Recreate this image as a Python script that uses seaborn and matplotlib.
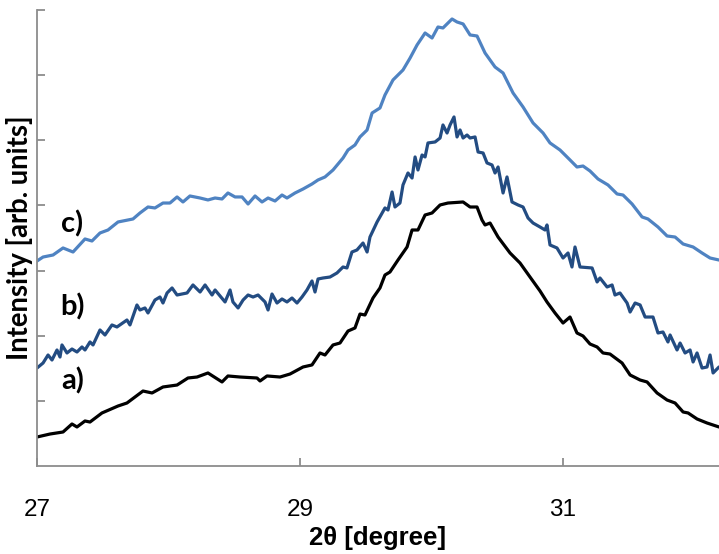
import numpy as np
import pandas as pd
import matplotlib
matplotlib.use("Agg")
import matplotlib.pyplot as plt
import seaborn as sns

# --- diffraction profiles: 2-theta positions (degree) and intensities (arb. units) ---
two_theta_a = [27.000, 27.099, 27.198, 27.266, 27.304, 27.365, 27.403, 27.494, 27.616, 27.684,
               27.806, 27.875, 27.958, 28.065, 28.148, 28.217, 28.300, 28.407, 28.452, 28.544,
               28.673, 28.696, 28.749, 28.848, 28.924, 29.023, 29.091, 29.152, 29.190, 29.251,
               29.304, 29.365, 29.418, 29.456, 29.494, 29.555, 29.608, 29.646, 29.684, 29.745,
               29.814, 29.852, 29.897, 29.951, 30.004, 30.065, 30.125, 30.240, 30.293, 30.346,
               30.384, 30.407, 30.445, 30.506, 30.597, 30.673, 30.749, 30.825, 30.878, 30.939,
               31.000, 31.053, 31.106, 31.152, 31.205, 31.259, 31.304, 31.357, 31.449, 31.510,
               31.586, 31.639, 31.715, 31.791, 31.852, 31.913, 31.951, 32.019, 32.095, 32.186]
intensity_a = [0.445, 0.491, 0.522, 0.645, 0.599, 0.691, 0.675, 0.814, 0.921, 0.967,
               1.151, 1.121, 1.213, 1.243, 1.351, 1.366, 1.428, 1.290, 1.382, 1.366,
               1.351, 1.305, 1.382, 1.366, 1.412, 1.520, 1.551, 1.735, 1.704, 1.858,
               1.888, 2.072, 2.119, 2.333, 2.318, 2.579, 2.733, 2.932, 2.978, 3.162,
               3.362, 3.623, 3.623, 3.853, 3.884, 4.007, 4.037, 4.053, 3.976, 3.976,
               3.776, 3.700, 3.730, 3.515, 3.270, 3.116, 2.901, 2.687, 2.518, 2.349,
               2.195, 2.287, 2.042, 1.996, 1.873, 1.827, 1.735, 1.719, 1.581, 1.397,
               1.320, 1.290, 1.121, 1.013, 0.967, 0.829, 0.814, 0.722, 0.660, 0.599]

two_theta_b = [27.000, 27.046, 27.084, 27.114, 27.152, 27.175, 27.190, 27.228, 27.266, 27.304,
               27.342, 27.365, 27.403, 27.426, 27.479, 27.517, 27.570, 27.608, 27.684, 27.707,
               27.760, 27.783, 27.821, 27.844, 27.897, 27.935, 27.958, 27.989, 28.027, 28.065,
               28.103, 28.141, 28.186, 28.240, 28.278, 28.331, 28.354, 28.392, 28.430, 28.468,
               28.490, 28.529, 28.567, 28.605, 28.643, 28.681, 28.734, 28.757, 28.787, 28.825,
               28.863, 28.901, 28.939, 28.977, 29.015, 29.053, 29.091, 29.114, 29.137, 29.175,
               29.228, 29.281, 29.327, 29.357, 29.395, 29.433, 29.479, 29.510, 29.532, 29.586,
               29.646, 29.669, 29.700, 29.722, 29.760, 29.783, 29.821, 29.852, 29.875, 29.897,
               29.928, 29.951, 29.973, 30.027, 30.065, 30.087, 30.118, 30.141, 30.171, 30.194,
               30.217, 30.240, 30.270, 30.293, 30.331, 30.354, 30.392, 30.422, 30.460, 30.483,
               30.506, 30.544, 30.574, 30.612, 30.658, 30.696, 30.734, 30.772, 30.825, 30.863,
               30.878, 30.901, 30.954, 31.000, 31.038, 31.068, 31.091, 31.129, 31.221, 31.259,
               31.281, 31.335, 31.373, 31.395, 31.433, 31.487, 31.510, 31.548, 31.586, 31.624,
               31.684, 31.722, 31.760, 31.798, 31.814, 31.867, 31.890, 31.928, 31.966, 31.989,
               32.019, 32.057, 32.095, 32.118, 32.141, 32.186]
intensity_b = [1.504, 1.581, 1.704, 1.627, 1.781, 1.673, 1.858, 1.735, 1.796, 1.750,
               1.827, 1.781, 1.904, 1.858, 2.088, 2.011, 2.165, 2.134, 2.241, 2.165,
               2.472, 2.395, 2.426, 2.349, 2.548, 2.594, 2.502, 2.656, 2.733, 2.625,
               2.640, 2.656, 2.779, 2.671, 2.779, 2.625, 2.702, 2.610, 2.518, 2.702,
               2.518, 2.426, 2.548, 2.625, 2.594, 2.625, 2.518, 2.395, 2.640, 2.502,
               2.564, 2.518, 2.579, 2.502, 2.594, 2.702, 2.840, 2.671, 2.871, 2.886,
               2.901, 2.963, 3.055, 3.040, 3.285, 3.316, 3.423, 3.285, 3.515, 3.746,
               3.961, 3.930, 4.206, 3.976, 4.037, 4.314, 4.498, 4.421, 4.744, 4.544,
               4.774, 4.744, 4.959, 4.974, 5.035, 5.235, 5.112, 5.235, 5.358, 5.051,
               5.158, 5.035, 5.081, 5.035, 5.051, 4.820, 4.805, 4.652, 4.621, 4.498,
               4.590, 4.191, 4.437, 4.053, 4.007, 3.976, 3.807, 3.730, 3.669, 3.623,
               3.700, 3.393, 3.347, 3.193, 3.270, 3.055, 3.362, 3.055, 3.040, 2.825,
               2.886, 2.748, 2.779, 2.625, 2.656, 2.502, 2.364, 2.502, 2.472, 2.287,
               2.287, 2.042, 2.057, 1.904, 2.011, 1.781, 1.888, 1.735, 1.781, 1.597,
               1.735, 1.504, 1.520, 1.704, 1.428, 1.520]

two_theta_c = [27.000, 27.046, 27.122, 27.198, 27.274, 27.365, 27.418, 27.479, 27.540, 27.616,
               27.730, 27.783, 27.844, 27.897, 27.958, 28.011, 28.065, 28.110, 28.163, 28.240,
               28.300, 28.354, 28.407, 28.452, 28.506, 28.559, 28.605, 28.658, 28.711, 28.757,
               28.810, 28.863, 28.901, 28.962, 29.023, 29.091, 29.137, 29.190, 29.251, 29.327,
               29.365, 29.418, 29.456, 29.510, 29.548, 29.608, 29.646, 29.707, 29.783, 29.837,
               29.890, 29.951, 30.004, 30.049, 30.087, 30.156, 30.194, 30.240, 30.293, 30.346,
               30.407, 30.483, 30.544, 30.620, 30.696, 30.772, 30.848, 30.901, 30.977, 31.053,
               31.106, 31.152, 31.205, 31.266, 31.342, 31.411, 31.456, 31.525, 31.601, 31.646,
               31.722, 31.791, 31.852, 31.913, 31.989, 32.057, 32.118, 32.186]
intensity_c = [3.147, 3.208, 3.239, 3.347, 3.285, 3.485, 3.454, 3.577, 3.623, 3.746,
               3.792, 3.884, 3.976, 3.961, 4.037, 4.037, 4.130, 4.053, 4.145, 4.114,
               4.084, 4.114, 4.099, 4.191, 4.130, 4.130, 4.022, 4.145, 4.053, 4.114,
               4.068, 4.160, 4.114, 4.191, 4.252, 4.329, 4.391, 4.437, 4.544, 4.728,
               4.851, 4.928, 5.051, 5.158, 5.419, 5.496, 5.695, 5.926, 6.079, 6.263,
               6.463, 6.647, 6.570, 6.739, 6.724, 6.862, 6.816, 6.786, 6.617, 6.601,
               6.340, 6.125, 6.033, 5.726, 5.511, 5.266, 5.112, 4.959, 4.851, 4.698,
               4.590, 4.605, 4.529, 4.406, 4.314, 4.176, 4.160, 4.022, 3.823, 3.792,
               3.669, 3.531, 3.515, 3.408, 3.362, 3.270, 3.193, 3.162]

sample_names = ["a)", "b)", "c)"]
x_ticks = [27, 29, 31]
y_ticks = [1, 2, 3, 4, 5, 6, 7]

frames = []
for name, tt, inten in zip(sample_names,
                           [two_theta_a, two_theta_b, two_theta_c],
                           [intensity_a, intensity_b, intensity_c]):
    frames.append(pd.DataFrame({"two_theta": tt, "intensity": inten, "sample": name}))
data = pd.concat(frames, ignore_index=True)

sns.set_theme(style="white")
plt.rcParams["font.family"] = ["Liberation Sans", "DejaVu Sans"]
plt.rcParams["text.color"] = "black"

fig = plt.figure(figsize=(7.19, 5.54), dpi=100)
ax = fig.add_axes([37 / 719, 1 - 466 / 554, 1 - 37 / 719, 456 / 554])

palette = {"a)": "#000000", "b)": "#234c82", "c)": "#4f83c2"}
sns.lineplot(data=data, x="two_theta", y="intensity", hue="sample",
             palette=palette, estimator=None, sort=False, linewidth=2.3,
             legend=False, ax=ax)
for line in ax.get_lines():
    line.set_solid_joinstyle("round")
    line.set_solid_capstyle("round")

ax.set_xlim(27, max(two_theta_a))
ax.set_ylim(0, 7)

axis_grey = "#8c8c8c"
for side in ["top", "right"]:
    ax.spines[side].set_visible(False)
for side in ["left", "bottom"]:
    ax.spines[side].set_color(axis_grey)
    ax.spines[side].set_linewidth(1.3)

ax.set_xticks(x_ticks)
ax.set_xticklabels([str(t) for t in x_ticks])
ax.set_yticks(y_ticks)
ax.set_yticklabels([])
ax.tick_params(axis="x", direction="in", length=6, width=1.3, color=axis_grey,
               pad=24, labelsize=17.5, labelcolor="black", bottom=True)
ax.tick_params(axis="y", direction="in", length=6, width=1.3, color=axis_grey,
               left=True)

ax.set_xlabel("2θ [degree]", fontsize=18.5, fontweight="bold", color="black",
              fontfamily=["Liberation Sans", "DejaVu Sans"])
ax.xaxis.set_label_coords(0.5, -(538 - 466) / 456)
ax.xaxis.label.set_verticalalignment("center")

ax.set_ylabel("Intensity [arb. units]", fontsize=19.8, fontweight="bold", color="black",
              fontfamily=["Lato", "DejaVu Sans"])
ax.yaxis.set_label_coords(-(37 - 20) / 682, 0.5)
ax.yaxis.label.set_verticalalignment("center")

label_pos = {"a)": 1.30, "b)": 2.45, "c)": 3.72}
for name in sample_names:
    ax.text(27.27, label_pos[name], name, fontsize=21, fontweight="bold",
            fontfamily=["Lato", "DejaVu Sans"], ha="center", va="center",
            color="black")

fig.savefig("out.png", dpi=100)
